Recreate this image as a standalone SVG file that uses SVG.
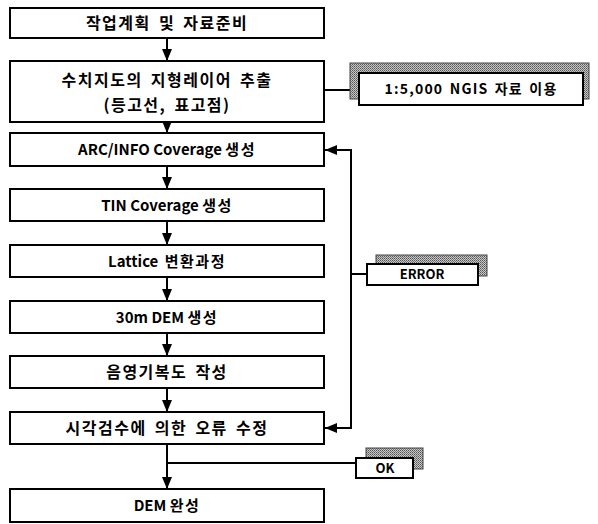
<svg xmlns="http://www.w3.org/2000/svg" width="598" height="524" viewBox="0 0 598 524">
<style>
.box{fill:#fff;stroke:#000;stroke-width:2}
.shadow{fill:url(#dither);stroke:#444;stroke-width:1}
.line{fill:none;stroke:#000;stroke-width:2}
.t{font-family:"Noto Sans CJK KR","Noto Sans",sans-serif;font-size:15px;font-weight:bold;fill:#000;text-anchor:middle}
.k{font-size:16px;letter-spacing:1.5px;word-spacing:3px}
.s{font-size:14px;letter-spacing:1.2px;word-spacing:2px}
.e{font-size:13px}
.w{letter-spacing:1.5px}
</style>
<defs>
<pattern id="dither" width="2" height="2" patternUnits="userSpaceOnUse">
<rect width="2" height="2" fill="#c8c8c8"/>
<rect width="1" height="1" fill="#555"/>
<rect x="1" y="1" width="1" height="1" fill="#777"/>
</pattern>
<marker id="ah" viewBox="0 0 12 10" refX="12" refY="5" markerWidth="12" markerHeight="10" markerUnits="userSpaceOnUse" orient="auto">
<path d="M0,0 L12,5 L0,10 Z" fill="#000"/>
</marker>
</defs>
<rect width="598" height="524" fill="#fff"/>
<g id="connectors">
<line class="line" x1="167" y1="38" x2="167" y2="61" marker-end="url(#ah)"/>
<line class="line" x1="167" y1="122" x2="167" y2="133" marker-end="url(#ah)"/>
<line class="line" x1="167" y1="166" x2="167" y2="189" marker-end="url(#ah)"/>
<line class="line" x1="167" y1="221" x2="167" y2="245" marker-end="url(#ah)"/>
<line class="line" x1="167" y1="277" x2="167" y2="301" marker-end="url(#ah)"/>
<line class="line" x1="167" y1="333" x2="167" y2="356" marker-end="url(#ah)"/>
<line class="line" x1="167" y1="388" x2="167" y2="412" marker-end="url(#ah)"/>
<line class="line" x1="167" y1="444" x2="167" y2="489" marker-end="url(#ah)"/>
<line class="line" x1="167" y1="463" x2="356" y2="463"/>
<line class="line" x1="324" y1="90" x2="350" y2="90"/>
<polyline class="line" points="351,428 351,150 325,150" marker-end="url(#ah)"/>
<polyline class="line" points="351,274 351,428 325,428" marker-end="url(#ah)"/>
<line class="line" x1="351" y1="274" x2="367" y2="274"/>
</g>
<g id="n1"><rect class="box" x="10" y="8" width="314" height="30"/><text class="t k" x="167" y="29">작업계획 및 자료준비</text></g>
<g id="n2"><rect class="box" x="10" y="61" width="314" height="61"/><text class="t k" x="167" y="86">수치지도의 지형레이어 추출</text><text class="t k" x="167" y="111">(등고선, 표고점)</text></g>
<g id="n3"><rect class="box" x="10" y="133" width="314" height="33"/><text class="t" x="167" y="155">ARC/INFO Coverage <tspan class="w">생성</tspan></text></g>
<g id="n4"><rect class="box" x="10" y="189" width="314" height="32"/><text class="t" x="167" y="210.5">TIN Coverage <tspan class="w">생성</tspan></text></g>
<g id="n5"><rect class="box" x="10" y="245" width="314" height="32"/><text class="t" x="167" y="266.5" word-spacing="3">Lattice <tspan class="w">변환과정</tspan></text></g>
<g id="n6"><rect class="box" x="10" y="301" width="314" height="32"/><text class="t" x="167" y="322.5">30m DEM <tspan class="w">생성</tspan></text></g>
<g id="n7"><rect class="box" x="10" y="356" width="314" height="32"/><text class="t k" x="167" y="378">음영기복도 작성</text></g>
<g id="n8"><rect class="box" x="10" y="412" width="314" height="32"/><text class="t k" x="167" y="434">시각검수에 의한 오류 수정</text></g>
<g id="n9"><rect class="box" x="10" y="489" width="314" height="33"/><text class="t" x="167" y="511">DEM <tspan class="w">완성</tspan></text></g>
<g id="ngis"><rect class="shadow" x="350" y="63" width="239" height="36"/><rect class="box" x="359" y="73" width="224" height="32"/><text class="t s" x="471" y="94">1:5,000 NGIS 자료 이용</text></g>
<g id="error"><rect class="shadow" x="376" y="255" width="111" height="21"/><rect class="box" x="367" y="264" width="111" height="21"/><text class="t e" x="422" y="279">ERROR</text></g>
<g id="ok"><rect class="shadow" x="366" y="448" width="57" height="21"/><rect class="box" x="356" y="458" width="57" height="20"/><text class="t e" x="385" y="473">OK</text></g>
</svg>
